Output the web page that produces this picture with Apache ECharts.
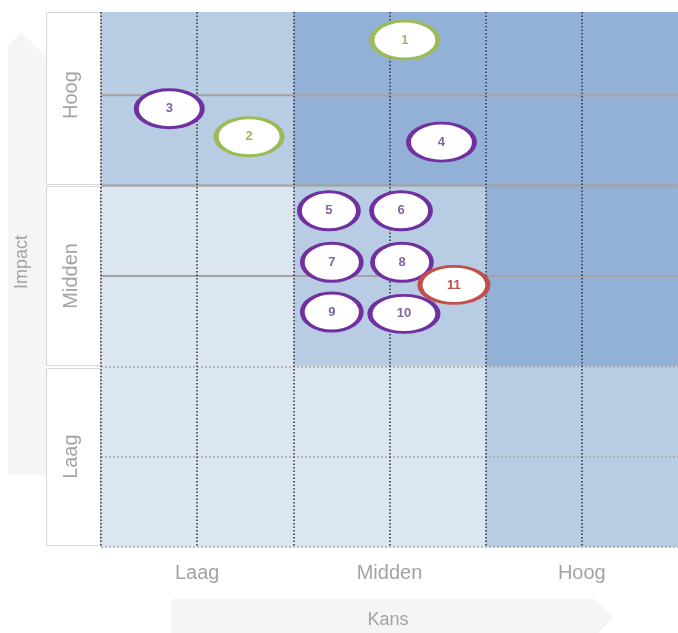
<!DOCTYPE html>
<html>
<head>
<meta charset="utf-8">
<script src="https://cdn.jsdelivr.net/npm/echarts@6/dist/echarts.min.js"></script>
<style>
  html, body { margin: 0; padding: 0; background: #fff; }
  #main { width: 678px; height: 633px; }
</style>
</head>
<body>
<div id="main"></div>
<script>
// risico's: nummer, kans (x), impact (y), soort
var riskIds = ['1', '2', '3', '4', '5', '6', '7', '8', '9', '10', '11'];
var riskKans = [3.16, 1.54, 0.71, 3.54, 2.37, 3.12, 2.40, 3.13, 2.40, 3.15, 3.67];
var riskImpact = [5.61, 4.54, 4.85, 4.48, 3.72, 3.72, 3.15, 3.15, 2.60, 2.58, 2.90];
var riskType = ['groen', 'groen', 'paars', 'paars', 'paars', 'paars', 'paars', 'paars', 'paars', 'paars', 'rood'];

// labels van de assen
var kansLabels = ['Laag', 'Midden', 'Hoog'];
var impactLabels = ['Laag', 'Midden', 'Hoog'];

// niveau per vak: rij = impact (laag->hoog), kolom = kans (laag->hoog)
var zoneLaag = [0, 0, 1];
var zoneMidden = [0, 1, 2];
var zoneHoog = [1, 2, 2];

// doorgetrokken lijnen in het bovenste deel
var solidLines = [3, 4, 5];

var zoneColors = ['#dce6f1', '#b8cce4', '#93b1d7'];
var typeColors = {
	groen: { border: '#9bbb59', text: '#9bbb59' },
	paars: { border: '#7030a0', text: '#8064a2' },
	rood: { border: '#c0504d', text: '#c0504d' }
};

var myChart = echarts.init(document.getElementById('main'));

var zones = [];
[zoneLaag, zoneMidden, zoneHoog].forEach(function (row, iy) {
	row.forEach(function (level, kx) {
		zones.push([kx, iy, level]);
	});
});

var points = [];
for (var i = 0; i < riskIds.length; i++) {
	points.push({
		value: [riskKans[i], riskImpact[i]],
		name: riskIds[i],
		itemStyle: { color: '#fff', borderColor: typeColors[riskType[i]].border },
		label: { color: typeColors[riskType[i]].text }
	});
}

function bubbleSize(val, params) {
	var id = riskIds[params.dataIndex];
	if (id.length > 1) return [68, 37];
	if (val[1] > 4) return [66, 38];
	return [59, 38];
}

function labelFor(list) {
	return function (v) {
		return (v % 2 === 1) ? list[(v - 1) / 2] : '';
	};
}

var labelFont = { fontFamily: 'Liberation Sans, Arial, sans-serif', fontSize: 20, color: '#a3a3a3' };

var option = {
	animation: false,
	grid: { left: 101, right: 0, top: 12, bottom: 86 },
	xAxis: {
		type: 'value', min: 0, max: 6, interval: 1,
		axisLine: { show: false }, axisTick: { show: false },
		axisLabel: Object.assign({ formatter: labelFor(kansLabels), margin: 16, showMaxLabel: false }, labelFont),
		splitLine: { show: true, showMaxLine: false, lineStyle: { color: '#3a3a3a', width: 1.6, type: [1.5, 2] } }
	},
	yAxis: {
		type: 'value', min: 0, max: 5.92, interval: 1,
		axisLine: { show: false }, axisTick: { show: false },
		axisLabel: Object.assign({ formatter: labelFor(impactLabels), rotate: 90, margin: 20, showMaxLabel: false }, labelFont),
		splitLine: { show: true, showMaxLine: false, lineStyle: { color: '#a8a8a8', width: 1.5, type: [2, 2] } }
	},
	graphic: [
		{ type: 'polygon', z: -10, shape: { points: [[8, 475], [8, 46], [21, 32], [46, 57], [46, 475]] }, style: { fill: '#f5f5f5' } },
		{ type: 'polygon', z: -10, shape: { points: [[171, 599], [595, 599], [613, 618], [595, 637], [171, 637]] }, style: { fill: '#f5f5f5' } },
		{ type: 'rect', z: -5, shape: { x: 46.5, y: 12.5, width: 54, height: 172 }, style: { fill: '#fff', stroke: '#d6d6d6', lineWidth: 1 } },
		{ type: 'rect', z: -5, shape: { x: 46.5, y: 186.5, width: 54, height: 179 }, style: { fill: '#fff', stroke: '#d6d6d6', lineWidth: 1 } },
		{ type: 'rect', z: -5, shape: { x: 46.5, y: 368.5, width: 54, height: 177 }, style: { fill: '#fff', stroke: '#d6d6d6', lineWidth: 1 } },
		{ type: 'text', z: 5, x: 22, y: 262, rotation: Math.PI / 2,
			style: { text: 'Impact', fill: '#a3a3a3', font: '18px Liberation Sans, Arial, sans-serif', textAlign: 'center', textVerticalAlign: 'middle' } },
		{ type: 'text', z: 5, x: 388, y: 620,
			style: { text: 'Kans', fill: '#a3a3a3', font: '18px Liberation Sans, Arial, sans-serif', textAlign: 'center', textVerticalAlign: 'middle' } }
	],
	series: [
		{
			type: 'custom',
			z: -2,
			silent: true,
			clip: true,
			data: zones,
			renderItem: function (params, api) {
				var kx = api.value(0), iy = api.value(1);
				var p0 = api.coord([kx * 2, iy * 2]);
				var p1 = api.coord([kx * 2 + 2, iy * 2 + 2]);
				return {
					type: 'rect',
					shape: { x: p0[0], y: p1[1], width: p1[0] - p0[0], height: p0[1] - p1[1] },
					style: { fill: zoneColors[api.value(2)] }
				};
			}
		},
		{
			type: 'custom',
			z: -1,
			silent: true,
			data: solidLines.map(function (v) { return [v]; }),
			encode: { y: 0 },
			renderItem: function (params, api) {
				var a = api.coord([0, api.value(0)]);
				var b = api.coord([6, api.value(0)]);
				return {
					type: 'line',
					shape: { x1: a[0], y1: a[1], x2: b[0], y2: b[1] },
					style: { stroke: '#a0a0a0', lineWidth: 2 }
				};
			}
		},
		{
			type: 'scatter',
			symbol: 'circle',
			symbolSize: bubbleSize,
			data: points,
			itemStyle: { borderWidth: 3.8, opacity: 1 },
			label: {
				show: true, position: 'inside', formatter: '{b}',
				fontFamily: 'Liberation Sans, Arial, sans-serif', fontSize: 13, fontWeight: 'bold'
			}
		}
	]
};

myChart.setOption(option);
</script>
</body>
</html>
